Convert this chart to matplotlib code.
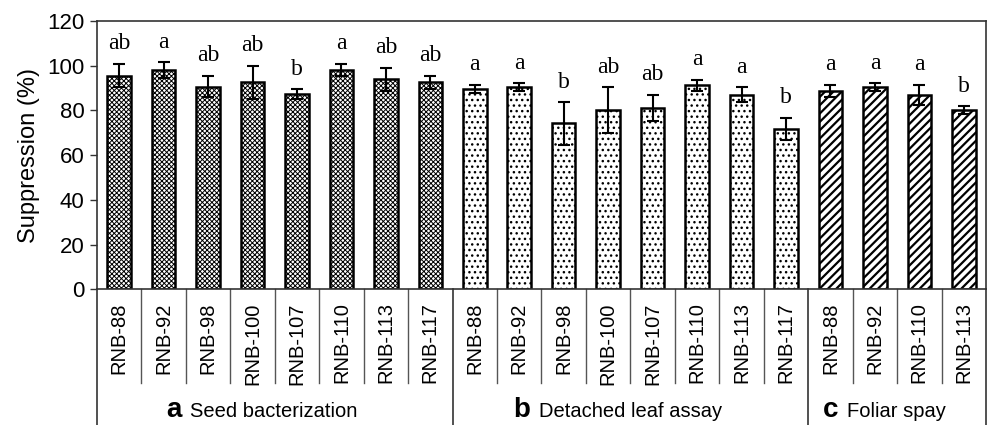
import matplotlib
matplotlib.use("Agg")
import matplotlib.pyplot as plt
import numpy as np
from matplotlib.offsetbox import TextArea, HPacker, AnnotationBbox

# data
strains_a = ['RNB-88', 'RNB-92', 'RNB-98', 'RNB-100', 'RNB-107', 'RNB-110', 'RNB-113', 'RNB-117']
supp_a = [95.6, 98.2, 90.7, 92.5, 87.3, 98.2, 94.0, 92.5]
err_a = [5.3, 3.5, 4.9, 7.5, 2.3, 2.7, 5.1, 3.1]
letters_a = ['ab', 'a', 'ab', 'ab', 'b', 'a', 'ab', 'ab']

strains_b = ['RNB-88', 'RNB-92', 'RNB-98', 'RNB-100', 'RNB-107', 'RNB-110', 'RNB-113', 'RNB-117']
supp_b = [89.7, 90.4, 74.2, 80.2, 81.1, 91.2, 87.0, 71.7]
err_b = [1.8, 1.8, 9.5, 10.2, 5.9, 2.5, 3.4, 5.1]
letters_b = ['a', 'a', 'b', 'ab', 'ab', 'a', 'a', 'b']

strains_c = ['RNB-88', 'RNB-92', 'RNB-110', 'RNB-113']
supp_c = [88.8, 90.4, 87.0, 80.2]
err_c = [2.7, 1.8, 4.5, 1.7]
letters_c = ['a', 'a', 'a', 'b']

groups = [
    ('a', 'Seed bacterization', strains_a, supp_a, err_a, letters_a, 'xxxxxxx', 0.7),
    ('b', 'Detached leaf assay', strains_b, supp_b, err_b, letters_b, '...', 1.0),
    ('c', 'Foliar spay', strains_c, supp_c, err_c, letters_c, '////', 1.6),
]

sans = 'Liberation Sans'
serif = 'Liberation Serif'

fig = plt.figure(figsize=(9.89, 4.25), dpi=100)
ax = fig.add_axes([0.098, 0.3193, 0.899, 0.6313])

trans = ax.get_xaxis_transform()
labels = []
start = 0
bounds = [-0.5]
for letter, name, strains, vals, errs, sig, hatch, hlw in groups:
    x = np.arange(start, start + len(strains))
    with plt.rc_context({'hatch.linewidth': hlw, 'hatch.color': 'black'}):
        bars = ax.bar(x, vals, width=0.53, color='white', edgecolor='black',
                      linewidth=1.8, hatch=hatch, zorder=2)
        for b in bars:
            if hasattr(b, 'set_hatch_linewidth'):
                b.set_hatch_linewidth(hlw)
    ax.errorbar(x, vals, yerr=errs, fmt='none', ecolor='black', elinewidth=1.5,
                capsize=4.6, capthick=1.5, zorder=3)
    for xi, v, e, s in zip(x, vals, errs, sig):
        ax.text(xi, v + e + 6.4, s, ha='center', va='baseline',
                fontsize=17, family=serif)
    labels += strains
    # group label: bold letter + name
    box = HPacker(children=[
        TextArea(letter, textprops=dict(fontsize=20, fontweight='bold', family=sans)),
        TextArea(name, textprops=dict(fontsize=14.5, family=sans))],
        align='baseline', pad=0, sep=6)
    cx = start + (len(strains) - 1) / 2
    ab = AnnotationBbox(box, (cx, -0.449), xycoords=trans, xybox=(-9, 0),
                        boxcoords='offset points', box_alignment=(0.5, 0.5),
                        frameon=False, annotation_clip=False)
    ax.add_artist(ab)
    # short dividers between strains
    for xb in x[:-1] + 0.5:
        ax.plot([xb, xb], [0, -0.351], transform=trans, color='#555555',
                lw=1.0, clip_on=False)
    start += len(strains)
    bounds.append(start - 0.5)

for xb in bounds:
    ax.plot([xb, xb], [0, -0.6], transform=trans, color='#333333',
            lw=1.2, clip_on=False)

ax.set_xlim(-0.5, start - 0.5)
ax.set_ylim(0, 120)
ax.set_yticks(np.arange(0, 121, 20))
ax.set_xticks(np.arange(start))
ax.set_xticklabels(labels, rotation=90, fontsize=14.5, family=sans, va='top')
ax.tick_params(axis='x', length=0, pad=9.4)
ax.tick_params(axis='y', direction='out', length=5, width=1, labelsize=16,
               pad=4, color='#333333')
for lab in ax.get_yticklabels():
    lab.set_family(sans)
for sp in ax.spines.values():
    sp.set_color('#333333')
    sp.set_linewidth(1.2)

ax.set_ylabel('Suppression (%)', fontsize=17, family=sans, labelpad=5)

fig.savefig('out.png', dpi=100)
